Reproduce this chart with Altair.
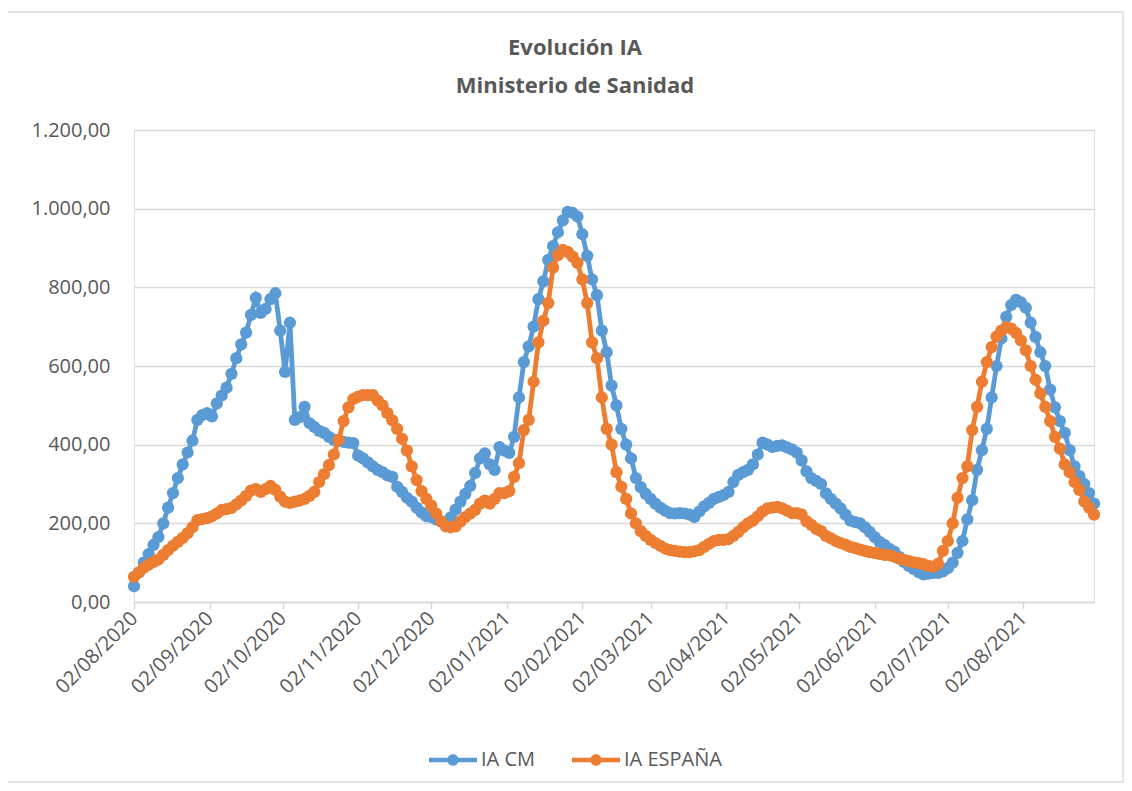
import altair as alt
import pandas as pd

series_names = ["IA CM", "IA ESPAÑA"]
series_colors = ["#5B9BD5", "#ED7D31"]

start_date = "2020-08-02"
step_days = 2

# IA CM, one value every 2 days from 02/08/2020
ia_cm = [
    40, 75, 100, 122, 145, 165, 200, 240, 277, 315, 350, 380, 410, 463, 475, 480, 472, 505, 525, 545,
    580, 620, 655, 685, 730, 773, 735, 745, 770, 785, 690, 585, 710, 463, 470, 496, 455, 445, 435, 430,
    420, 412, 410, 407, 405, 404, 372, 365, 355, 345, 336, 330, 322, 318, 293, 280, 265, 255, 240, 228,
    218, 216, 210, 205, 201, 215, 235, 255, 275, 295, 328, 365, 378, 350, 336, 394, 385, 379, 420, 520,
    610, 650, 700, 770, 815, 870, 905, 940, 970, 992, 989, 980, 935, 880, 820, 780, 690, 635, 550, 500,
    440, 400, 365, 315, 292, 275, 262, 250, 240, 232, 226, 225, 226, 225, 222, 216, 230, 243, 252, 262,
    267, 272, 280, 305, 323, 330, 336, 350, 375, 405, 400, 394, 397, 398, 393, 388, 380, 360, 332, 315,
    308, 300, 276, 262, 250, 238, 222, 207, 203, 200, 190, 178, 165, 153, 145, 135, 128, 115, 102, 92,
    84, 76, 70, 72, 74, 74, 78, 86, 100, 125, 155, 210, 259, 336, 386, 440, 520, 600, 670, 725,
    755, 768, 762, 748, 710, 674, 635, 600, 540, 495, 460, 430, 386, 345, 320, 300, 277, 250,
]

# IA ESPAÑA, one value every 2 days from 02/08/2020
ia_espana = [
    64, 75, 87, 95, 102, 108, 120, 132, 143, 153, 163, 175, 190, 208, 211, 213, 218, 225, 234, 236,
    239, 248, 258, 270, 283, 287, 280, 287, 295, 285, 268, 255, 252, 255, 258, 262, 270, 280, 305, 325,
    348, 375, 412, 460, 495, 516, 522, 526, 526, 526, 512, 500, 480, 462, 440, 415, 385, 345, 310, 282,
    262, 245, 225, 205, 192, 190, 192, 205, 216, 225, 234, 250, 258, 250, 262, 277, 277, 282, 318, 353,
    437, 463, 560, 660, 715, 760, 850, 882, 895, 890, 878, 862, 820, 760, 660, 620, 520, 440, 400, 330,
    293, 262, 225, 200, 180, 168, 158, 150, 143, 136, 132, 130, 128, 127, 127, 129, 132, 140, 148, 155,
    158, 158, 160, 168, 178, 190, 200, 207, 218, 230, 238, 240, 242, 238, 232, 226, 226, 222, 205, 196,
    186, 180, 168, 162, 155, 150, 146, 140, 137, 133, 130, 127, 125, 122, 120, 119, 115, 110, 107, 104,
    101, 99, 96, 92, 90, 97, 130, 155, 200, 265, 315, 345, 437, 496, 560, 610, 648, 675, 690, 699,
    695, 684, 665, 640, 600, 565, 530, 496, 460, 420, 390, 350, 330, 305, 285, 256, 240, 222,
]

# x tick dates (day 2 of each month)
tick_months = [(2020, 8), (2020, 9), (2020, 10), (2020, 11), (2020, 12), (2021, 1), (2021, 2),
               (2021, 3), (2021, 4), (2021, 5), (2021, 6), (2021, 7), (2021, 8)]
y_ticks = [0, 200, 400, 600, 800, 1000, 1200]

dates = pd.date_range(start_date, periods=len(ia_cm), freq=f"{step_days}D")
df = pd.concat([
    pd.DataFrame({"date": dates, "value": ia_cm, "series": series_names[0]}),
    pd.DataFrame({"date": dates, "value": ia_espana, "series": series_names[1]}),
], ignore_index=True)

FONT = "Open Sans"
GREY = "#595959"
LIGHT = "#d9d9d9"

x_enc = alt.X(
    "date:T",
    title=None,
    scale=alt.Scale(domain=[alt.DateTime(year=2020, month=8, date=2),
                            alt.DateTime(year=2021, month=8, date=31)]),
    axis=alt.Axis(
        values=[alt.DateTime(year=y, month=m, date=2) for y, m in tick_months],
        format="%d/%m/%Y", labelAngle=-45, labelAlign="right", labelBaseline="middle",
        labelPadding=6, labelFontSize=20, labelFont=FONT, labelColor=GREY,
        grid=False, domainColor=LIGHT, domainWidth=1.5, tickColor=LIGHT, tickSize=7,
        tickWidth=1.5, labelOverlap=False,
    ),
)
y_enc = alt.Y(
    "value:Q",
    title=None,
    scale=alt.Scale(domain=[0, 1200], nice=False),
    axis=alt.Axis(
        values=y_ticks,
        labelExpr="datum.value >= 1000 ? format(floor(datum.value/1000),'d') + '.' + format(datum.value % 1000, '03d') + ',00' : format(datum.value, 'd') + ',00'",
        labelFontSize=20, labelFont=FONT, labelColor=GREY, labelPadding=24,
        domain=False, ticks=False, gridColor=LIGHT, gridWidth=1.3,
    ),
)

color_scale = alt.Scale(domain=series_names, range=series_colors)
legend = alt.Legend(
    title=None, orient="none", legendX=307, legendY=618, direction="horizontal",
    symbolType="M-2,-0.18H2V0.18H-2Z M-0.48,0A0.48,0.48 0 1,1 0.48,0A0.48,0.48 0 1,1 -0.48,0Z",
    symbolSize=576, symbolStrokeWidth=0, symbolOpacity=1, labelOffset=16, columnPadding=36,
    labelFontSize=20, labelFont=FONT, labelColor=GREY,
)

base = alt.Chart(df)
layers = []
border = alt.Chart(pd.DataFrame({"a": [0]})).mark_rect(
    filled=False, stroke=LIGHT, strokeWidth=1.3
).encode(x=alt.value(-128), x2=alt.value(989), y=alt.value(-118), y2=alt.value(652))
layers.append(border)
for name, col in zip(series_names, series_colors):
    sub = base.transform_filter(alt.datum.series == name)
    layers.append(sub.mark_line(strokeWidth=4.8, color=col).encode(x=x_enc, y=y_enc))
    layers.append(sub.mark_point(filled=True, size=150, opacity=1).encode(
        x=x_enc, y=y_enc, color=alt.Color("series:N", scale=color_scale, legend=legend)))

chart = alt.layer(*layers).properties(
    width=960, height=472,
    title=alt.TitleParams(
        text=["Evolución IA", "Ministerio de Sanidad"], fontSize=22, font=FONT, fontWeight="bold",
        color=GREY, anchor="middle", lineHeight=38, offset=-104, dx=-39, baseline="alphabetic",
    ),
    autosize=alt.AutoSizeParams(type="none"),
    padding={"left": 126, "top": 122, "right": 30, "bottom": 181},
).configure_view(strokeWidth=0).configure(background="white")

chart.save("out.html", embed_options={"renderer": "svg", "actions": False})
